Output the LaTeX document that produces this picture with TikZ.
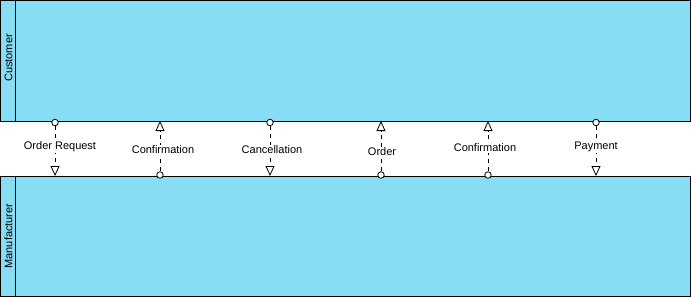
\documentclass[tikz,border=0pt]{standalone}
\usepackage{fontspec}
\setmainfont{Liberation Sans}
\usetikzlibrary{arrows.meta}
\definecolor{corsia}{RGB}{135,221,244}
\begin{document}
\begin{tikzpicture}[x=1pt,y=-1pt,
    corsia/.style={draw=black,fill=corsia,line width=0.9pt},
    testo/.style={font=\fontsize{11}{13}\selectfont,fill=white,inner sep=1pt},
    nome/.style={font=\fontsize{11}{13}\selectfont,rotate=90,inner sep=0pt},
    cerchio/.style={circle,draw,fill=white,minimum size=6.5pt,inner sep=0pt,line width=0.8pt},
    messaggio/.style={line width=0.8pt,dash pattern=on 4pt off 4pt,
        -{Triangle[open,length=10pt,width=9pt,line width=0.8pt]}}]
        % --- macro riutilizzabili -----------------------------------------
        \def\ytop{121}
        \def\ybot{176}
        \def\giu#1#2#3#4#5{% nome, x, x etichetta, y etichetta, testo
            \node[cerchio] (#1) at (#2,\ytop+1.5) {};
            \coordinate (#1-fine) at (#2,\ybot);
            \draw[messaggio] (#1) -- (#1-fine);
            \node[testo] (#1-et) at (#3,#4) {#5};}
        \def\su#1#2#3#4#5{% nome, x, x etichetta, y etichetta, testo
            \node[cerchio] (#1) at (#2,\ybot-1) {};
            \coordinate (#1-fine) at (#2,\ytop);
            \draw[messaggio] (#1) -- (#1-fine);
            \node[testo] (#1-et) at (#3,#4) {#5};}
        \useasboundingbox (0,0) rectangle (691,298);
        % --- corsie -------------------------------------------------------
        \draw[corsia] (0.5,0.5) rectangle (690.5,\ytop);
        \draw[line width=0.9pt] (15.5,0.5) -- (15.5,\ytop);
        \draw[corsia] (0.5,\ybot) rectangle (690.5,296.8);
        \draw[line width=0.9pt] (15.5,\ybot) -- (15.5,296.8);
        \node[nome] (cliente) at (8.5,58) {Customer};
        \node[nome] (produttore) at (8.5,236) {Manufacturer};
        % --- messaggi -----------------------------------------------------
        \giu{ordreq}{55}{60}{147}{Order Request}
        \su{conf1}{160}{163}{150}{Confirmation}
        \giu{canc}{270}{272}{150}{Cancellation}
        \su{ordine}{381}{382}{152}{Order}
        \su{conf2}{488}{485}{148}{Confirmation}
        \giu{pag}{596}{596}{147}{Payment}
    \end{tikzpicture}
\end{document}
